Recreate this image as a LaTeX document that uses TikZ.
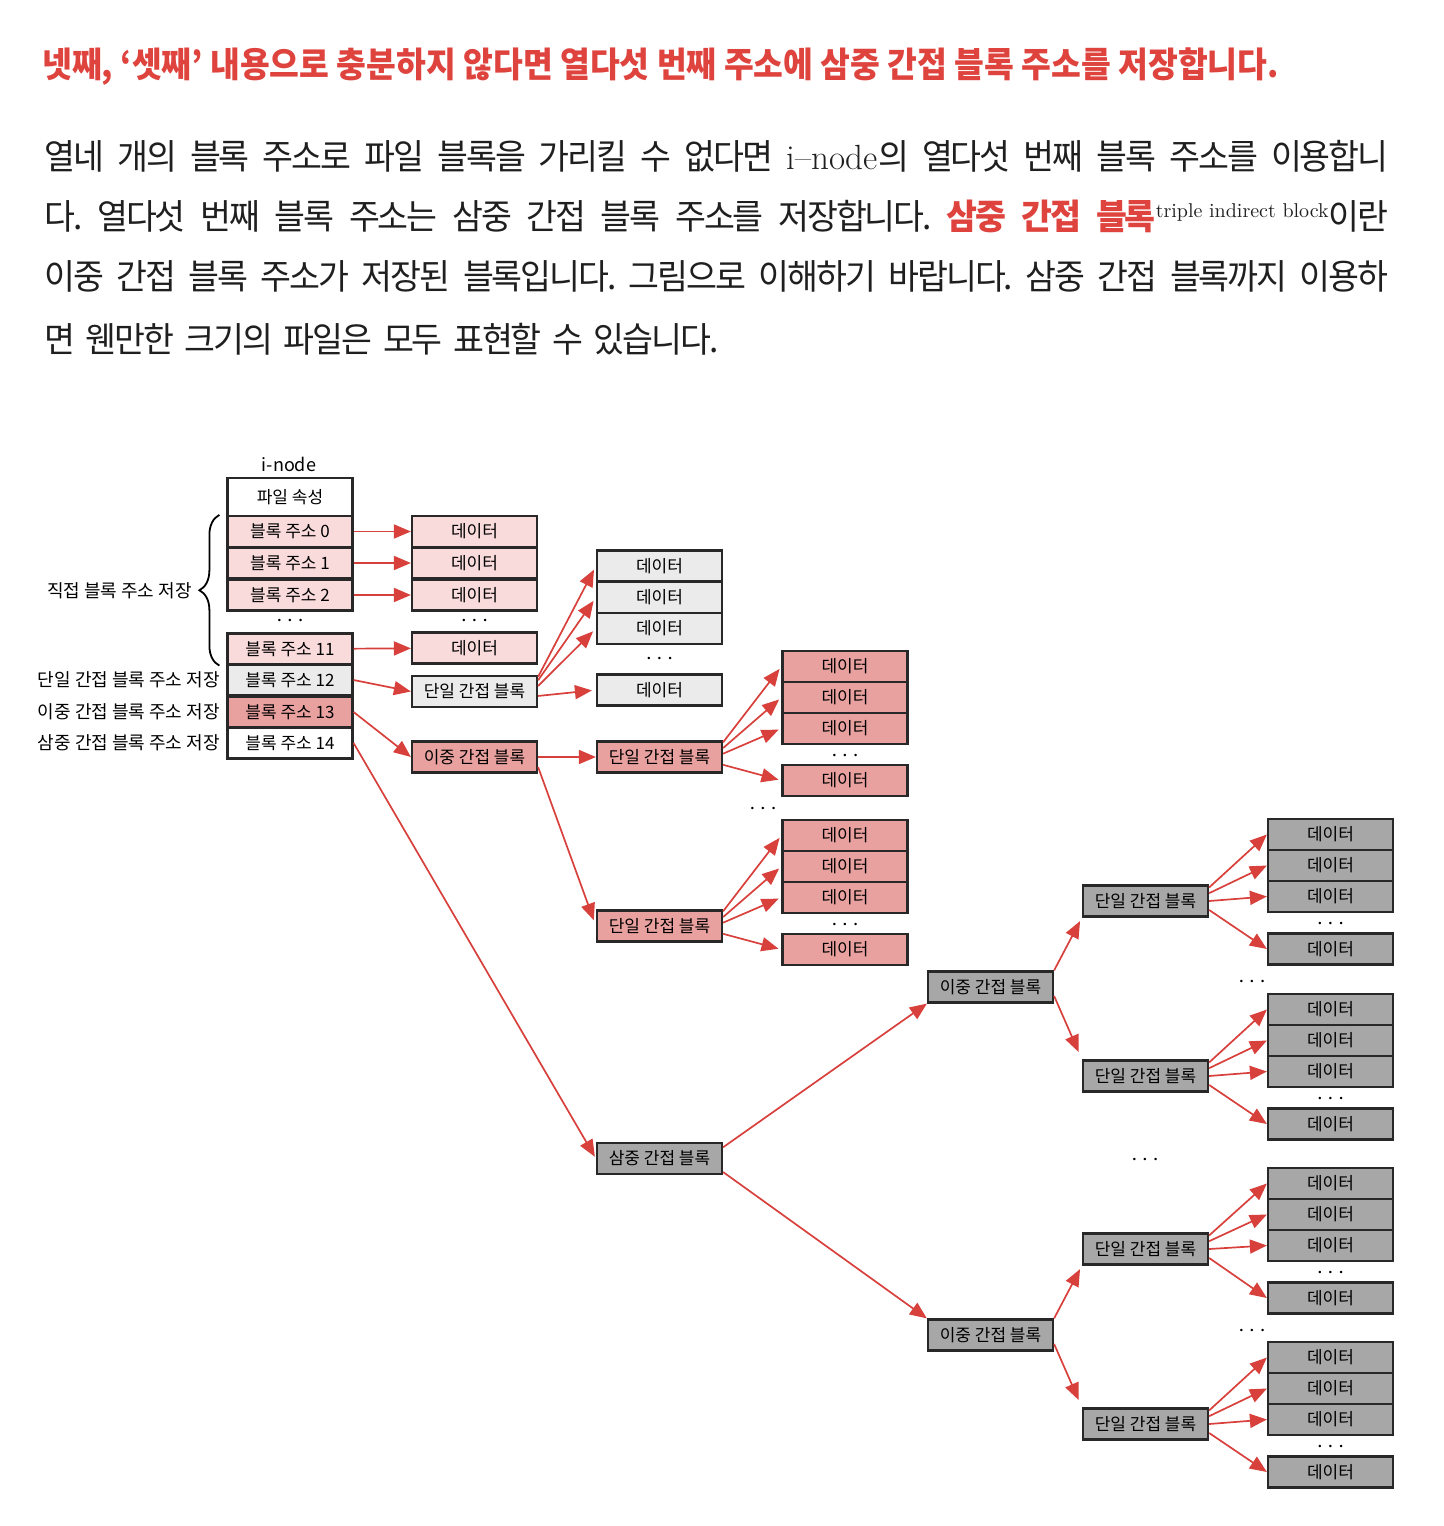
\documentclass[tikz,border=0pt]{standalone}
\usepackage{fontspec}
\usetikzlibrary{arrows.meta,decorations.pathreplacing}

\newfontfamily\krfont{Noto Sans CJK KR}
\newfontfamily\krcond[FakeStretch=0.96,LetterSpace=-6]{Noto Sans CJK KR}
\newfontfamily\krtitle[FakeStretch=0.925]{Noto Sans CJK KR}

\definecolor{titlered}{RGB}{222,67,62}
\definecolor{ptrred}{RGB}{216,64,60}
\definecolor{pinkfill}{RGB}{249,219,220}
\definecolor{lgrayfill}{RGB}{235,235,235}
\definecolor{salmonfill}{RGB}{233,161,159}
\definecolor{dgrayfill}{RGB}{166,167,166}
\definecolor{boxedge}{RGB}{40,40,40}

\tikzset{
  blk/.style={draw=boxedge, line width=1.1pt, minimum width=62.5pt, minimum height=15.5pt,
    inner sep=0pt, font=\krfont\fontsize{8.5}{8.5}\selectfont},
  ptr/.style={draw=ptrred, line width=0.85pt, -{Triangle[length=8.5pt,width=7pt]}, ptrred},
  etc/.style={inner sep=0pt, font=\fontsize{12}{12}\selectfont},
  lbl/.style={inner sep=0pt, font=\krfont\fontsize{9}{9}\selectfont},
  bodyline/.style={anchor=west, inner sep=0pt, font=\krcond\fontsize{17.5}{17.5}\selectfont\frenchspacing, text=black!88},
}

\begin{document}
\begin{tikzpicture}[x=0.5pt,y=-0.5pt]
  \useasboundingbox (0,0) rectangle (1444,1526);

  % 제목
  \node[anchor=west, inner sep=0pt, text=titlered, font=\krtitle\bfseries\fontsize{17.5}{17.5}\selectfont] (title) at (42,67)
    {넷째, ‘셋째’ 내용으로 충분하지 않다면 열다섯 번째 주소에 삼중 간접 블록 주소를 저장합니다.};

  % 본문
  \node[bodyline] (line1) at (44,156) {\makebox[672pt][s]{열네 개의 블록 주소로 파일 블록을 가리킬 수 없다면 {\rmfamily i--node}의 열다섯 번째 블록 주소를 이용합니}};
  \node[bodyline] (line2) at (44,216) {\makebox[672pt][s]{다. 열다섯 번째 블록 주소는 삼중 간접 블록 주소를 저장합니다. {\color{titlered}\bfseries 삼중 간접 블록}\raisebox{6pt}{\rmfamily\fontsize{10}{10}\selectfont triple indirect block}이란}};
  \node[bodyline] (line3) at (44,276) {\makebox[672pt][s]{이중 간접 블록 주소가 저장된 블록입니다. 그림으로 이해하기 바랍니다. 삼중 간접 블록까지 이용하}};
  \node[bodyline] (line4) at (44,339) {\makebox[337pt][s]{면 웬만한 크기의 파일은 모두 표현할 수 있습니다.}};

  % i-node
  \node[lbl] (inode) at (289,464) {i-node};
  \node[blk, fill=white, minimum height=19pt] (attr) at (290,497) {파일 속성};
  \node[blk, fill=pinkfill] (a0) at (290,531.5) {블록 주소 0};
  \node[blk, fill=pinkfill] (a1) at (290,563) {블록 주소 1};
  \node[blk, fill=pinkfill] (a2) at (290,595) {블록 주소 2};
  \node[etc] at (290,621) {$\cdots$};
  \node[blk, fill=pinkfill] (a11) at (290,649) {블록 주소 11};
  \node[blk, fill=lgrayfill] (a12) at (290,680) {블록 주소 12};
  \node[blk, fill=salmonfill] (a13) at (290,712) {블록 주소 13};
  \node[blk, fill=white] (a14) at (290,743) {블록 주소 14};

  % 왼쪽 설명
  \draw[line width=0.9pt, decorate, decoration={brace, amplitude=10pt}]
    ([xshift=-3.5pt]a11.south west) -- ([xshift=-3.5pt]a0.north west);
  \node[lbl, anchor=east] (direct) at (192,591) {직접 블록 주소 저장};
  \node[lbl, anchor=east] (single) at (220,680) {단일 간접 블록 주소 저장};
  \node[lbl, anchor=east] (double) at (220,712) {이중 간접 블록 주소 저장};
  \node[lbl, anchor=east] (triple) at (220,743) {삼중 간접 블록 주소 저장};

  % 직접 블록
  \node[blk, fill=pinkfill] (d0) at (474.5,531.5) {데이터};
  \node[blk, fill=pinkfill] (d1) at (474.5,563) {데이터};
  \node[blk, fill=pinkfill] (d2) at (474.5,595) {데이터};
  \node[etc] at (474.5,621) {$\cdots$};
  \node[blk, fill=pinkfill] (d11) at (474.5,648) {데이터};
  \draw[ptr] (a0) -- (d0);
  \draw[ptr] (a1) -- (d1);
  \draw[ptr] (a2) -- (d2);
  \draw[ptr] (a11) -- (d11);

  % 단일 간접
  \node[blk, fill=lgrayfill] (sgl) at (474.5,691.5) {단일 간접 블록};
  \node[blk, fill=lgrayfill] (sd1) at (659.5,566) {데이터};
  \node[blk, fill=lgrayfill] (sd2) at (659.5,597.5) {데이터};
  \node[blk, fill=lgrayfill] (sd3) at (659.5,628.5) {데이터};
  \node[etc] at (659.5,659) {$\cdots$};
  \node[blk, fill=lgrayfill] (sd4) at (659.5,690) {데이터};
  \draw[ptr] (a12.east) -- (sgl.west);
  \draw[ptr, shorten >=2pt] (sgl.13) -- (sd1.west);
  \draw[ptr, shorten >=2pt] (sgl.10) -- (sd2.west);
  \draw[ptr, shorten >=2pt] (sgl.5) -- (sd3.west);
  \draw[ptr, shorten >=2pt] (sgl.-4) -- (sd4.west);

  % 이중 간접
  \node[blk, fill=salmonfill] (dbl) at (474.5,757) {이중 간접 블록};
  \node[blk, fill=salmonfill] (dsA) at (659.5,757) {단일 간접 블록};
  \node[blk, fill=salmonfill] (dsB) at (659.5,926) {단일 간접 블록};
  \draw[ptr] (a13.east) -- (dbl.west);
  \draw[ptr] (dbl.east) -- (dsA.west);
  \draw[ptr, shorten >=3pt] (dbl.-9) -- (dsB.west);
  \node[etc] at (763,809) {$\cdots$};
  \foreach \s/\yy in {dsA/651, dsB/820}{
    \node[blk, fill=salmonfill] (\s-1) at (845,\yy+15.5) {데이터};
    \node[blk, fill=salmonfill] (\s-2) at (845,\yy+46.5) {데이터};
    \node[blk, fill=salmonfill] (\s-3) at (845,\yy+77.5) {데이터};
    \node[etc] at (845,\yy+105) {$\cdots$};
    \node[blk, fill=salmonfill] (\s-4) at (845,\yy+129.5) {데이터};
    \draw[ptr, shorten >=1.5pt] (\s.13) -- (\s-1.west);
    \draw[ptr, shorten >=1.5pt] (\s.8) -- (\s-2.west);
    \draw[ptr, shorten >=1.5pt] (\s.3) -- (\s-3.west);
    \draw[ptr, shorten >=1.5pt] (\s.-7) -- (\s-4.west);
  }

  % 삼중 간접
  \node[blk, fill=dgrayfill] (tri) at (659.5,1158.5) {삼중 간접 블록};
  \node[blk, fill=dgrayfill] (tdA) at (990.5,987) {이중 간접 블록};
  \node[blk, fill=dgrayfill] (tdB) at (990.5,1335) {이중 간접 블록};
  \draw[ptr, shorten >=1pt] (a14.east) -- (tri.west);
  \draw[ptr] (tri.10) -- (tdA.south west);
  \draw[ptr] (tri.-12) -- (tdB.north west);

  \node[blk, fill=dgrayfill] (ts1) at (1145.5,901) {단일 간접 블록};
  \node[blk, fill=dgrayfill] (ts2) at (1145.5,1076) {단일 간접 블록};
  \node[etc] at (1145,1160) {$\cdots$};
  \node[blk, fill=dgrayfill] (ts3) at (1145.5,1249) {단일 간접 블록};
  \node[blk, fill=dgrayfill] (ts4) at (1145.5,1424) {단일 간접 블록};
  \draw[ptr, shorten >=2pt] (tdA.north east) -- (ts1.south west);
  \draw[ptr, shorten >=4pt] (tdA.-8) -- (ts2.north west);
  \draw[ptr, shorten >=2pt] (tdB.north east) -- (ts3.south west);
  \draw[ptr, shorten >=4pt] (tdB.-8) -- (ts4.north west);

  \node[etc] at (1252,982) {$\cdots$};
  \node[etc] at (1252,1331) {$\cdots$};
  \foreach \s/\yy in {ts1/819, ts2/994, ts3/1168, ts4/1342}{
    \node[blk, fill=dgrayfill] (\s-1) at (1330.5,\yy+15.5) {데이터};
    \node[blk, fill=dgrayfill] (\s-2) at (1330.5,\yy+46.5) {데이터};
    \node[blk, fill=dgrayfill] (\s-3) at (1330.5,\yy+77.5) {데이터};
    \node[etc] at (1330.5,\yy+105) {$\cdots$};
    \node[blk, fill=dgrayfill] (\s-4) at (1330.5,\yy+130) {데이터};
    \draw[ptr] (\s.12) -- (\s-1.west);
    \draw[ptr] (\s.7) -- (\s-2.west);
    \draw[ptr] (\s.0) -- (\s-3.west);
    \draw[ptr] (\s.-8) -- (\s-4.west);
  }

\end{tikzpicture}
\end{document}
